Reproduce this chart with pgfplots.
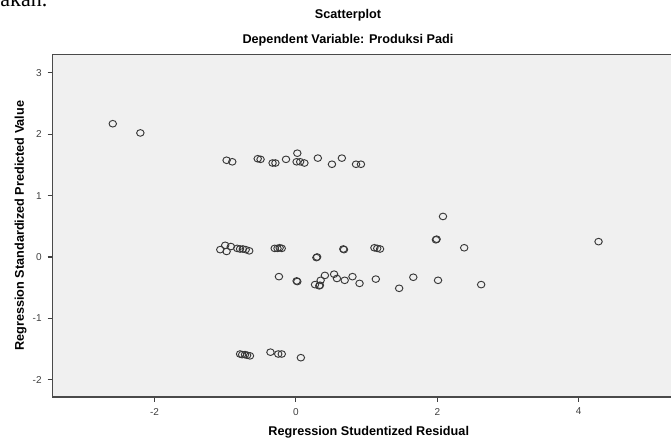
\documentclass[border=0pt]{standalone}
\usepackage{pgfplots}
\pgfplotsset{compat=1.18}
\usepackage{fontspec}
\setmainfont{Liberation Sans}
\newfontfamily\serifdoc{Liberation Serif}
\definecolor{bgc}{HTML}{F0F0F0}
\definecolor{framec}{HTML}{4A4A4A}
\definecolor{markc}{HTML}{383838}
\definecolor{tickc}{HTML}{404040}
\begin{document}
\begin{tikzpicture}
\begin{axis}[
  at={(39.5pt,33.75pt)}, anchor=south west,
  scale only axis,
  width=474.1pt, height=257pt,
  xmin=-3.44, xmax=5.5,
  ymin=-2.28, ymax=3.30,
  xtick={-2,0,2,4},
  ytick={-2,-1,0,1,2,3},
  tick align=outside, tick pos=left,
  major tick length=3.75pt,
  every tick/.style={color=tickc, line width=0.8pt},
  axis line style={draw=framec, line width=1.1pt},
  axis background/.style={fill=bgc},
  tick label style={font=\fontsize{7.5}{9}\selectfont, text=tickc},
  /pgf/number format/assume math mode=true,
  xticklabel style={yshift=-1pt},
  yticklabel style={xshift=-1pt},
  xlabel={\bfseries Regression Studentized Residual},
  ylabel={\bfseries Regression Standardized Predicted Value},
  label style={font=\fontsize{9.5}{11}\selectfont},
  xlabel style={at={(axis description cs:0.5,0)}, anchor=center, yshift=-26.25pt},
  ylabel style={at={(axis description cs:-0.0506,0.5)}, anchor=center, rotate=0},
  clip=false,
]
\addplot[only marks, mark=o, mark size=2.5pt,
  mark options={draw=markc, line width=0.7pt, xscale=1.12}]
coordinates {
(-2.59,2.17) (-2.20,2.02)
(-0.98,1.575) (-0.90,1.55) (-0.54,1.60) (-0.50,1.59) (-0.33,1.53) (-0.29,1.53)
(-0.14,1.59) (0.02,1.69) (0.01,1.55) (0.06,1.55) (0.12,1.53) (0.31,1.61)
(0.51,1.51) (0.65,1.61) (0.85,1.51) (0.92,1.51)
(-1.07,0.12) (-1.00,0.19) (-0.98,0.09) (-0.92,0.17) (-0.83,0.14) (-0.79,0.13)
(-0.75,0.13) (-0.71,0.12) (-0.66,0.10) (-0.30,0.14) (-0.26,0.14) (-0.23,0.15)
(-0.20,0.14) (0.29,-0.01) (0.30,0.00) (0.67,0.13) (0.68,0.12) (1.11,0.15)
(1.15,0.14) (1.19,0.13) (1.98,0.28) (1.99,0.29) (2.08,0.66) (2.38,0.15) (4.28,0.25)
(-0.24,-0.32) (0.01,-0.39) (0.02,-0.40) (0.27,-0.45) (0.33,-0.47) (0.34,-0.46)
(0.35,-0.38) (0.41,-0.30) (0.54,-0.28) (0.58,-0.35) (0.69,-0.38) (0.80,-0.32)
(0.90,-0.43) (1.13,-0.36) (1.46,-0.51) (1.66,-0.33) (2.01,-0.38) (2.62,-0.45)
(-0.79,-1.58) (-0.76,-1.59) (-0.72,-1.59) (-0.69,-1.60) (-0.65,-1.61)
(-0.36,-1.55) (-0.25,-1.58) (-0.20,-1.58) (0.07,-1.64)
};
\end{axis}
\node[font=\bfseries\fontsize{9.5}{11}\selectfont, anchor=center] at (261pt,320.25pt) {Scatterplot};
\node[font=\bfseries\fontsize{9.5}{11}\selectfont, anchor=center] at (261pt,301.5pt) {Dependent Variable: Produksi Padi};
\node[font=\serifdoc\fontsize{16.5}{18}\selectfont, anchor=base west, inner sep=0pt] at (0pt,326.25pt) {akan.};
\pgfresetboundingbox
\path[use as bounding box] (0,0) rectangle (503.25pt,331.5pt);
\end{tikzpicture}
\end{document}
